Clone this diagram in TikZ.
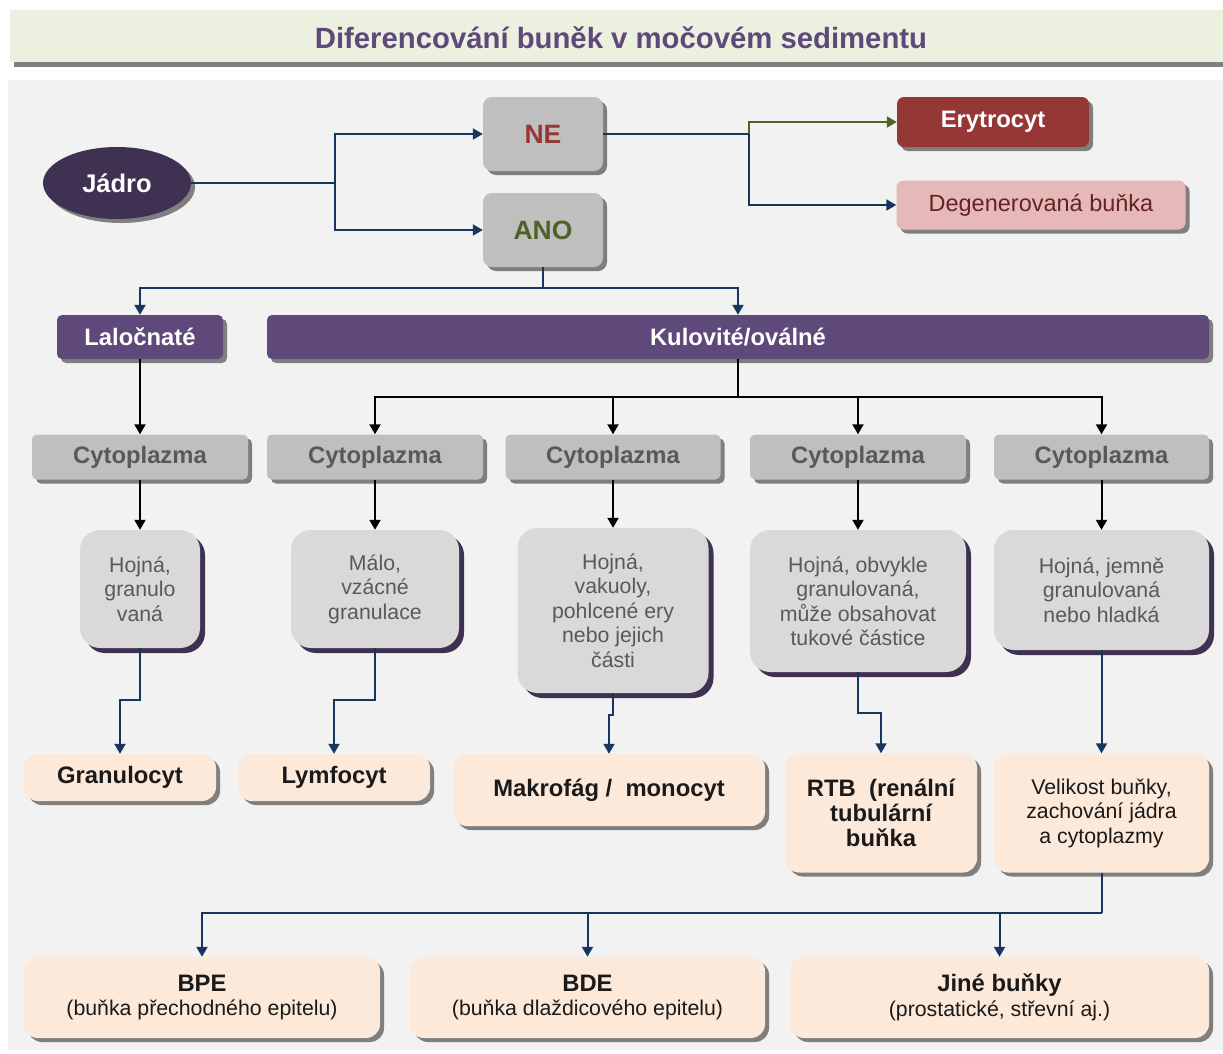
\documentclass[tikz,border=0pt]{standalone}
\usepackage{fontspec}
\setmainfont{Liberation Sans}
\usetikzlibrary{arrows.meta,shapes.geometric,shadows}
\definecolor{panel}{HTML}{F2F2F2}
\definecolor{titleband}{HTML}{EBF1DE}
\definecolor{titlebar}{HTML}{808080}
\definecolor{purpletxt}{HTML}{5F497A}
\definecolor{darkpurple}{HTML}{3F3151}
\definecolor{lilac}{HTML}{5F497A}
\definecolor{graybox}{HTML}{BFBFBF}
\definecolor{descbox}{HTML}{D9D9D9}
\definecolor{peach}{HTML}{FDE9D9}
\definecolor{eryred}{HTML}{953735}
\definecolor{degpink}{HTML}{E6B9B8}
\definecolor{degtxt}{HTML}{632423}
\definecolor{anogreen}{HTML}{4F6228}
\definecolor{graytxt}{HTML}{595959}
\definecolor{restxt}{HTML}{1A1A1A}
\definecolor{navy}{HTML}{17365D}
\definecolor{shd}{HTML}{7F7F7F}
\newcommand{\fbold}{\fontsize{23.8}{25}\selectfont\bfseries}
\newcommand{\freg}{\fontsize{21.3}{24.5}\selectfont}
\tikzset{
  gshadow/.style={drop shadow={shadow xshift=4pt,shadow yshift=-4pt,fill=shd,opacity=1}},
  pshadow/.style={drop shadow={shadow xshift=5pt,shadow yshift=-5pt,fill=darkpurple,opacity=1}},
  basebox/.style={rectangle,inner sep=2pt,align=center},
  yesno/.style={basebox,gshadow,fill=graybox,rounded corners=9pt,minimum width=120pt,minimum height=74pt,font=\fontsize{26.5}{28}\selectfont\bfseries},
  headbox/.style={basebox,gshadow,fill=lilac,text=white,rounded corners=5pt,minimum height=44pt,font=\fbold},
  cytobox/.style={basebox,gshadow,fill=graybox,text=graytxt,rounded corners=5pt,minimum width=216pt,minimum height=45pt,font=\fbold},
  descbx/.style={basebox,pshadow,fill=descbox,text=graytxt,rounded corners=20pt,font=\freg},
  resbox/.style={basebox,gshadow,fill=peach,text=restxt,rounded corners=14pt},
  navyarr/.style={draw=navy,line width=2pt,-{Triangle[length=10pt,width=11pt]}},
  navyline/.style={draw=navy,line width=2pt},
  blkarr/.style={draw=black,line width=2pt,-{Triangle[length=10pt,width=11pt]}},
  greenarr/.style={draw=anogreen,line width=2pt,-{Triangle[length=10pt,width=11pt]}},
}
\begin{document}
\begin{tikzpicture}[x=1pt,y=-1pt]
\useasboundingbox (0,0) rectangle (1223,1053);
\fill[white] (0,0) rectangle (1223,1053);
% title band
\fill[titleband] (10,10) rectangle (1223,62);
\fill[titlebar] (14,62) rectangle (1223,67);
\node[text=purpletxt,font=\fontsize{29.3}{32}\selectfont\bfseries] (title) at (621,38) {Diferencování buněk v močovém sedimentu};
% panel
\fill[panel] (8,80) rectangle (1223,1050);

% top nodes
\node[ellipse,gshadow,fill=darkpurple,text=white,minimum width=148pt,minimum height=72pt,font=\fontsize{25.5}{26}\selectfont\bfseries] (jadro) at (117,183) {Jádro};
\node[yesno,text=eryred] (ne) at (543,134) {NE};
\node[yesno,text=anogreen] (ano) at (543,230) {ANO};
\node[basebox,gshadow,fill=eryred,text=white,rounded corners=7pt,minimum width=192pt,minimum height=50pt,font=\fbold] (ery) at (993,122) {Erytrocyt};
\node[basebox,gshadow,fill=degpink,text=degtxt,rounded corners=7pt,minimum width=289pt,minimum height=49pt,font=\fontsize{23.5}{25}\selectfont] (deg) at (1041,205) {Degenerovaná buňka};

% second level
\node[headbox,minimum width=166pt] (lal) at (140,337) {Laločnaté};
\node[headbox,minimum width=942pt] (kul) at (738,337) {Kulovité/oválné};

% cytoplazma
\node[cytobox] (cyt1) at (140,457) {Cytoplazma};
\node[cytobox] (cyt2) at (375,457) {Cytoplazma};
\node[cytobox,minimum width=215pt] (cyt3) at (613,457) {Cytoplazma};
\node[cytobox] (cyt4) at (858,457) {Cytoplazma};
\node[cytobox,minimum width=215pt] (cyt5) at (1101.5,457) {Cytoplazma};

% descriptions
\node[descbx,minimum width=120pt,minimum height=118pt] (d1) at (140,589) {Hojná,\\granulo\\vaná};
\node[descbx,minimum width=168pt,minimum height=118pt] (d2) at (375,589) {Málo,\\vzácné\\granulace};
\node[descbx,minimum width=191pt,minimum height=165pt] (d3) at (613,610.5) {Hojná,\\vakuoly,\\pohlcené ery\\nebo jejich\\části};
\node[descbx,minimum width=216pt,minimum height=142pt] (d4) at (858,601) {Hojná, obvykle\\granulovaná,\\může obsahovat\\tukové částice};
\node[descbx,minimum width=215pt,minimum height=120pt] (d5) at (1101.5,590) {Hojná, jemně\\granulovaná\\nebo hladká};

% results
\node[resbox,minimum width=192pt,minimum height=47pt,font=\fbold] (gran) at (120,777.5) {Granulocyt};
\node[resbox,minimum width=192pt,minimum height=47pt,font=\fbold] (lymf) at (334,777.5) {Lymfocyt};
\node[resbox,minimum width=312pt,minimum height=72pt,font=\fbold] (makro) at (609,790) {Makrofág /\ \ monocyt};
\node[resbox,minimum width=192pt,minimum height=119pt,font=\fbold] (rtb) at (881,813) {RTB\ \ (renální\\tubulární\\buňka};
\node[resbox,minimum width=215pt,minimum height=119pt,font=\freg] (vel) at (1101.5,813) {Velikost buňky,\\zachování jádra\\a cytoplazmy};

% bottom
\node[resbox,minimum width=356pt,minimum height=81pt,font=\freg] (bpe) at (202,997.5) {{\fbold BPE}\\(buňka přechodného epitelu)};
\node[resbox,minimum width=355pt,minimum height=81pt,font=\freg] (bde) at (587.5,997.5) {{\fbold BDE}\\(buňka dlaždicového epitelu)};
\node[resbox,minimum width=419pt,minimum height=81pt,font=\freg] (jine) at (999.5,997.5) {{\fbold Jiné buňky}\\(prostatické, střevní aj.)};

% connectors
\coordinate (jb) at (335,183);
\draw[navyline] (jadro.east) -- (jb);
\draw[navyarr] (jb) |- (ne.west);
\draw[navyarr] (jb) |- (ano.west);

\coordinate (nb) at (749,134);
\draw[greenarr] (nb) |- (ery.west);
\draw[navyline] (ne.east) -- (nb);
\draw[navyarr] (nb) |- (deg.west);

\coordinate (ab) at (543,288);
\draw[navyline] (ano.south) -- (ab);
\draw[navyarr] (ab) -| (lal.north);
\draw[navyarr] (ab) -| (kul.north);

\draw[blkarr] (lal.south) -- (cyt1.north);
\coordinate (kb) at (738,397);
\draw[draw=black,line width=2pt] (kul.south) -- (kb);
\draw[blkarr] (kb) -| (cyt2.north);
\draw[blkarr] (kb) -| (cyt3.north);
\draw[blkarr] (kb) -| (cyt4.north);
\draw[blkarr] (kb) -| (cyt5.north);

\draw[blkarr] (cyt1.south) -- (d1.north);
\draw[blkarr] (cyt2.south) -- (d2.north);
\draw[blkarr] (cyt3.south) -- (d3.north);
\draw[blkarr] (cyt4.south) -- (d4.north);
\draw[blkarr] (cyt5.south) -- (d5.north);

\draw[navyarr] (d1.south) -- ++(0,52) -| (gran.north);
\draw[navyarr] (d2.south) -- ++(0,52) -| (lymf.north);
\draw[navyarr] (d3.south) -- ++(0,22) -| (makro.north);
\draw[navyarr] (d4.south) -- ++(0,41) -| (rtb.north);
\draw[navyarr] (d5.south) -- (vel.north);

\coordinate (vb) at (1101.5,913);
\draw[navyline] (vel.south) -- (vb);
\draw[navyarr] (vb) -| (bpe.north);
\draw[navyarr] (vb) -| (bde.north);
\draw[navyarr] (vb) -| (jine.north);
\end{tikzpicture}
\end{document}
